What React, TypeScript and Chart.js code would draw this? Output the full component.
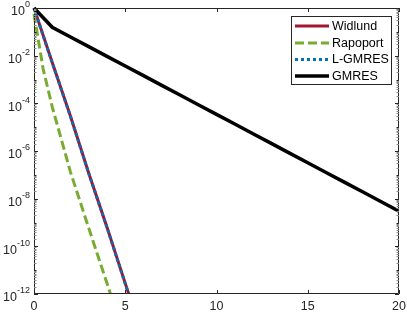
import React, { useEffect, useRef } from "react";
import { Chart, registerables } from "chart.js";

Chart.register(...registerables);

const seriesNames = ["Widlund", "Rapoport", "L-GMRES", "GMRES"];
const seriesColors = ["#A2142F", "#77AC30", "#0072BD", "#000000"];

const widlundX = [0, 1, 2, 3, 4, 5, 6];
const widlundY = [1, 5.2e-3, 2.9e-5, 1.17e-7, 6.3e-10, 2.8e-12, 1.3e-14];

const rapoportX = [0, 0.5, 1, 2, 3, 4, 5];
const rapoportY = [0.56, 2.8e-3, 7.1e-5, 1.3e-7, 5.8e-10, 2.8e-12, 1.3e-14];

const lgmresX = [0, 1, 2, 3, 4, 5, 6];
const lgmresY = [1, 5.0e-3, 2.8e-5, 1.15e-7, 6.2e-10, 2.7e-12, 1.2e-14];

const gmresX = [0, 1, 2, 3, 4, 5, 6, 7, 8, 9, 10, 11, 12, 13, 14, 15, 16, 17, 18, 19, 20];
const gmresY = [
  1, 0.155, 6.08e-2, 2.39e-2, 9.38e-3, 3.68e-3, 1.45e-3, 5.68e-4, 2.23e-4, 8.75e-5,
  3.44e-5, 1.35e-5, 5.3e-6, 2.08e-6, 8.17e-7, 3.21e-7, 1.26e-7, 4.94e-8, 1.94e-8,
  7.62e-9, 2.99e-9,
];

const xTicks = [0, 5, 10, 15, 20];
const yExponents = [0, -2, -4, -6, -8, -10, -12];

const FONT = "'Liberation Sans', Arial, Helvetica, sans-serif";
const AXIS_COLOR = "#262626";

const toPoints = (xs: number[], ys: number[]) => xs.map((x, i) => ({ x, y: ys[i] }));

const axesPlugin = {
  id: "matlabAxes",
  afterDraw(chart: any) {
    const ctx = chart.ctx as CanvasRenderingContext2D;
    const { left, right, top, bottom } = chart.chartArea;
    const xs = chart.scales.x;
    const ys = chart.scales.y;
    ctx.save();
    ctx.strokeStyle = AXIS_COLOR;
    ctx.lineWidth = 1;
    // box
    ctx.beginPath();
    ctx.rect(Math.round(left) + 0.5, Math.round(top) + 0.5, Math.round(right - left) - 1, Math.round(bottom - top) - 1);
    ctx.stroke();
    // x ticks inward, top and bottom + labels
    ctx.beginPath();
    for (const t of xTicks) {
      const px = Math.round(xs.getPixelForValue(t)) + 0.5;
      ctx.moveTo(px, bottom);
      ctx.lineTo(px, bottom - 4);
      ctx.moveTo(px, top);
      ctx.lineTo(px, top + 4);
    }
    ctx.stroke();
    ctx.fillStyle = AXIS_COLOR;
    ctx.font = `12.5px ${FONT}`;
    ctx.textAlign = "center";
    ctx.textBaseline = "middle";
    for (const t of xTicks) {
      ctx.fillText(String(t), xs.getPixelForValue(t), bottom + 12.5);
    }
    // y ticks: major every 2 decades, minor elsewhere
    ctx.beginPath();
    for (let e = 0; e >= -12; e--) {
      const py = Math.round(ys.getPixelForValue(Math.pow(10, e))) + 0.5;
      const len = e % 2 === 0 ? 4 : 2.5;
      ctx.moveTo(left, py);
      ctx.lineTo(left + len, py);
      ctx.moveTo(right, py);
      ctx.lineTo(right - len, py);
    }
    ctx.stroke();
    ctx.strokeStyle = "#8a8a8a";
    ctx.beginPath();
    for (let e = -1; e >= -12; e--) {
      for (let k = 2; k <= 9; k++) {
        const py = Math.round(ys.getPixelForValue(k * Math.pow(10, e))) + 0.5;
        ctx.moveTo(left, py);
        ctx.lineTo(left + 2.5, py);
        ctx.moveTo(right, py);
        ctx.lineTo(right - 2.5, py);
      }
    }
    ctx.stroke();
    // y labels 10^e
    ctx.fillStyle = AXIS_COLOR;
    ctx.textBaseline = "middle";
    ctx.textAlign = "left";
    for (const e of yExponents) {
      const py = ys.getPixelForValue(Math.pow(10, e));
      const baseFont = `12.5px ${FONT}`;
      const supFont = `9px ${FONT}`;
      const expText = e === 0 ? "0" : "-" + String(-e);
      ctx.font = supFont;
      const wExp = ctx.measureText(expText).width;
      ctx.font = baseFont;
      const wBase = ctx.measureText("10").width;
      const xEnd = left - 4;
      const xStart = xEnd - wExp - wBase;
      ctx.fillText("10", xStart, py + 4);
      ctx.font = supFont;
      ctx.fillText(expText, xStart + wBase, py - 3);
    }
    // legend
    const bx = 291.5, by = 16.5, bw = 100, bh = 68;
    ctx.fillStyle = "#ffffff";
    ctx.fillRect(bx, by, bw, bh);
    ctx.strokeStyle = AXIS_COLOR;
    ctx.lineWidth = 1;
    ctx.strokeRect(bx, by, bw, bh);
    const rowYs = [26, 43, 59.5, 76];
    const dashes = [[], [9, 4], [3, 3], []];
    chart.data.datasets.forEach((ds: any, i: number) => {
      const yy = rowYs[i];
      ctx.save();
      ctx.strokeStyle = ds.borderColor;
      ctx.lineWidth = ds.borderWidth;
      ctx.setLineDash(dashes[i]);
      ctx.lineCap = "butt";
      ctx.beginPath();
      ctx.moveTo(295, yy);
      ctx.lineTo(329, yy);
      ctx.stroke();
      ctx.restore();
      ctx.fillStyle = "#000000";
      ctx.font = `12.5px ${FONT}`;
      ctx.textAlign = "left";
      ctx.textBaseline = "middle";
      ctx.fillText(ds.label, 332, yy + 0.5);
    });
    ctx.restore();
  },
};

export default function App() {
  const canvasRef = useRef<HTMLCanvasElement | null>(null);

  useEffect(() => {
    if (!canvasRef.current) return;
    const clip = { left: 3, top: 3, right: 0, bottom: 0 };
    const chart = new Chart(canvasRef.current, {
      type: "line",
      data: {
        datasets: [
          {
            label: seriesNames[0],
            data: toPoints(widlundX, widlundY),
            borderColor: seriesColors[0],
            borderWidth: 3,
            pointRadius: 0,
            order: 3,
            clip,
          },
          {
            label: seriesNames[1],
            data: toPoints(rapoportX, rapoportY),
            borderColor: seriesColors[1],
            borderWidth: 3,
            borderDash: [9, 4],
            pointRadius: 0,
            order: 2,
            clip,
          },
          {
            label: seriesNames[2],
            data: toPoints(lgmresX, lgmresY),
            borderColor: seriesColors[2],
            borderWidth: 3,
            borderDash: [3, 3],
            pointRadius: 0,
            order: 1,
            clip,
          },
          {
            label: seriesNames[3],
            data: toPoints(gmresX, gmresY),
            borderColor: seriesColors[3],
            borderWidth: 3.5,
            pointRadius: 0,
            order: 0,
            clip,
          },
        ] as any,
      },
      options: {
        responsive: false,
        animation: false,
        events: [],
        layout: { padding: { top: 8, right: 8, left: 34, bottom: 19 } },
        plugins: { legend: { display: false }, tooltip: { enabled: false } },
        scales: {
          x: { type: "linear", min: 0, max: 20, display: false },
          y: { type: "logarithmic", min: 1e-12, max: 1, display: false },
        },
      } as any,
      plugins: [axesPlugin],
    });
    return () => chart.destroy();
  }, []);

  return (
    <div style={{ position: "fixed", left: 0, top: 0, width: 407, height: 313, background: "#fff" }}>
      <canvas ref={canvasRef} width={407} height={313} style={{ display: "block" }} />
    </div>
  );
}
